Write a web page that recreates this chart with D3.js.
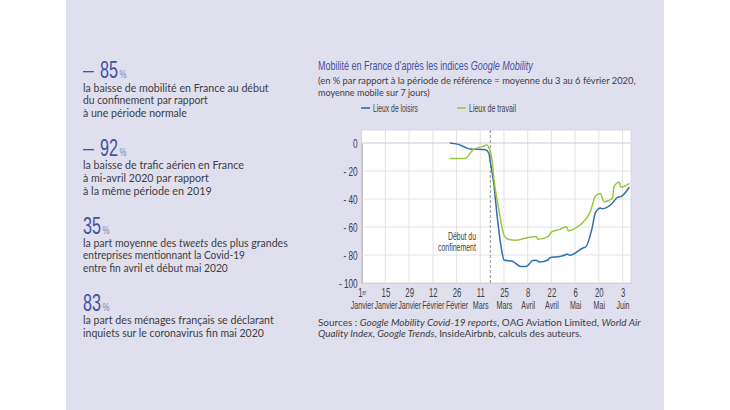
<!DOCTYPE html>
<html>
<head>
<meta charset="utf-8">
<script src="https://cdn.jsdelivr.net/npm/d3@7"></script>
<style>
  html, body { margin: 0; padding: 0; background: #fff; }
  svg { display: block; }
  text { font-family: "Lato", sans-serif; fill: #404042; }
</style>
</head>
<body>
<svg id="chart" width="730" height="410"></svg>
<script>
// data
const loisirsDates = ["02-22","02-27","03-02","03-05","03-14","03-16","03-17","03-19","03-21","03-24","03-25","03-30","04-04","04-07","04-11","04-13","04-15","04-20","04-21","04-27","04-30","05-01","05-03","05-11","05-12","05-16","05-18","05-21","05-22","05-28","05-31","06-02","06-07"];
const loisirsValues = [0,-1,-3,-4.3,-4.8,-7,-14,-29,-52.6,-79,-83.6,-84.5,-88.3,-88.3,-84,-83.8,-85,-83.6,-82,-81,-80,-79.3,-80.2,-74.8,-74.5,-61,-49.8,-46.4,-46.9,-43,-38.8,-38.3,-31.6];
const travailDates = ["02-22","03-02","03-07","03-12","03-15","03-16","03-18","03-19","03-22","03-25","03-27","04-01","04-07","04-13","04-14","04-20","04-22","04-27","04-30","05-01","05-02","05-07","05-11","05-15","05-18","05-21","05-23","05-28","05-29","06-01","06-02","06-07"];
const travailValues = [-11,-11,-4.5,-2.6,-1.4,-3,-13,-25,-47.9,-65.7,-68.6,-69.5,-67.9,-66.7,-68.8,-66.9,-63.6,-61.7,-60,-59.8,-62.6,-60.2,-56.2,-49,-37.9,-36,-41.9,-39.5,-31.2,-28,-31.6,-28.8];
const tickDates = ["01-01","01-15","01-29","02-12","02-26","03-11","03-25","04-08","04-22","05-06","05-20","06-03"];
const tickDays = ["1","15","29","12","26","11","25","8","22","6","20","3"];
const tickMonths = ["Janvier","Janvier","Janvier","Février","Février","Mars","Mars","Avril","Avril","Mai","Mai","Juin"];
const yTicks = [0,-20,-40,-60,-80,-100];
const seriesNames = ["Lieux de loisirs","Lieux de travail"];
const confinementDate = "03-17";

const figures = ["85","92","35","83"];
const blockLines = [
  ["la baisse de mobilité en France au début","du confinement par rapport","à une période normale"],
  ["la baisse de trafic aérien en France","à mi-avril 2020 par rapport","à la même période en 2019"],
  ["la part moyenne des <i>tweets</i> des plus grandes","entreprises mentionnant la Covid-19","entre fin avril et début mai 2020"],
  ["la part des ménages français se déclarant","inquiets sur le coronavirus fin mai 2020"]
];
const titleText = "Mobilité en France d’après les indices <i>Google Mobility</i>";
const subtitleLines = ["(en % par rapport à la période de référence = moyenne du 3 au 6 février 2020,","moyenne mobile sur 7 jours)"];
const sourceLines = ["Sources : <i>Google Mobility Covid-19 reports</i>, OAG Aviation Limited, <i>World Air</i>","<i>Quality Index</i>, <i>Google Trends</i>, InsideAirbnb, calculs des auteurs."];
const noteLines = ["Début du","confinement"];

const BLUE = "#2f6fae", GREEN = "#9cc641", TITLE = "#4451a6", NARROW = '"Liberation Sans", sans-serif';
const SQUEEZE = 0.62;

const parse = s => new Date(Date.UTC(2020, +s.slice(0,2) - 1, +s.slice(3)));

const svg = d3.select("#chart");
svg.append("rect").attr("x", 66).attr("y", 0).attr("width", 598).attr("height", 410).attr("fill", "#dfdfee");

// writes a line with <i> pieces, then squeezes it to the width measured on the picture
function put(x, y, str, width, opts = {}) {
  const t = svg.append("text")
    .style("font-size", (opts.size || 10.5) + "px")
    .style("font-family", opts.family || null)
    .style("fill", opts.fill || null)
    .style("font-weight", opts.weight || null);
  str.split(/(<i>.*?<\/i>)/).filter(s => s).forEach(part => {
    const it = part.startsWith("<i>");
    t.append("tspan").style("font-style", it ? "italic" : null).text(part.replace(/<\/?i>/g, ""));
  });
  const k = width ? width / t.node().getComputedTextLength() : 1;
  t.attr("transform", `translate(${x},${y}) scale(${k},1)`);
  return t;
}

// left column
const figX = [100, 100, 83, 83];
const figW = [18, 18, 18, 18];
const figY = [78, 156, 234, 311];
const lineY = [[91.7,104,116.7],[169,182,194.5],[247,259,271.5],[324.3,336.5]];
const lineW = [[186,125,104],[161,126,129],[205,162,145],[191,181]];
figures.forEach((f, i) => {
  if (i < 2) svg.append("rect").attr("x", 83).attr("y", figY[i] - 7).attr("width", 11).attr("height", 1.3).attr("fill", TITLE);
  put(figX[i], figY[i], f, figW[i], {size: 23.5, family: NARROW, fill: TITLE});
  put(figX[i] + 19.5, figY[i], "%", 7, {size: 11, family: NARROW, fill: "#7c86bd"});
  blockLines[i].forEach((l, j) => put(83, lineY[i][j], l, lineW[i][j]));
});

// headings
put(318, 70, titleText, 215, {size: 12.5, family: NARROW, fill: TITLE});
put(318, 84, subtitleLines[0], 318, {size: 9.5});
put(318, 95.7, subtitleLines[1], 112, {size: 9.5});
put(318, 325.7, sourceLines[0], 323, {size: 10});
put(318, 337, sourceLines[1], 264, {size: 10});

// legend
const legendX = [361, 457], legendW = [45, 47];
[BLUE, GREEN].forEach((c, i) => {
  svg.append("line").attr("x1", legendX[i]).attr("x2", legendX[i] + 9).attr("y1", 108).attr("y2", 108)
    .attr("stroke", c).attr("stroke-width", 1.6);
  put(legendX[i] + 12, 112, seriesNames[i], legendW[i], {size: 11, family: NARROW});
});

// plot
const margin = {left: 361.7, right: 631, top: 130, bottom: 283};
const x = d3.scaleUtc().domain([parse("01-01"), parse("06-08")]).range([margin.left, margin.right]);
const y = d3.scaleLinear().domain([-100, 0]).range([283, 143]);

svg.append("rect").attr("x", margin.left).attr("y", margin.top)
  .attr("width", margin.right - margin.left).attr("height", margin.bottom - margin.top)
  .attr("fill", "#fff").attr("stroke", "#d4d4dc").attr("stroke-width", 0.8);

const yAxis = svg.append("g").attr("transform", `translate(${margin.left},0)`)
  .call(d3.axisLeft(y).tickValues(yTicks).tickSize(0).tickPadding(4)
    .tickFormat(d => d === 0 ? "0" : "- " + Math.abs(d)));
yAxis.select(".domain").attr("stroke", "#a9a9b0").attr("stroke-width", 1);
yAxis.selectAll("text").style("font-family", NARROW).style("font-size", "12.5px")
  .attr("x", -4 / 0.66).attr("transform", "scale(0.66,1)");

// grid
svg.append("g").selectAll("line").data(tickDates.slice(1)).join("line")
  .attr("x1", d => x(parse(d))).attr("x2", d => x(parse(d)))
  .attr("y1", margin.top).attr("y2", margin.bottom)
  .attr("stroke", "#e0e0e0").attr("stroke-width", 0.9);
svg.append("g").selectAll("line").data(yTicks.filter(d => d > -100)).join("line")
  .attr("x1", margin.left).attr("x2", margin.right)
  .attr("y1", d => y(d)).attr("y2", d => y(d))
  .attr("stroke", d => d === 0 ? "#c4c4c4" : "#e0e0e0").attr("stroke-width", 0.9);

const xAxis = svg.append("g").attr("transform", `translate(0,${margin.bottom})`)
  .call(d3.axisBottom(x).tickValues(tickDates.map(parse)).tickSize(0).tickPadding(5)
    .tickFormat((d, i) => tickDays[i]));
xAxis.select(".domain").attr("stroke", "#d0d0d6").attr("stroke-width", 1.2);
xAxis.selectAll("text").style("font-family", NARROW).style("font-size", "12.5px")
  .attr("transform", `scale(${SQUEEZE},1)`);
xAxis.selectAll("text").filter((d, i) => i === 0).append("tspan")
  .attr("dy", "-0.3em").style("font-size", "6.5px").text("er");

const monthAxis = svg.append("g").attr("transform", `translate(0,${margin.bottom + 13})`)
  .call(d3.axisBottom(x).tickValues(tickDates.map(parse)).tickSize(0).tickPadding(5)
    .tickFormat((d, i) => tickMonths[i]));
monthAxis.select(".domain").remove();
monthAxis.selectAll("text").style("font-family", NARROW).style("font-size", "11.5px")
  .attr("transform", `scale(${SQUEEZE},1)`);

// start of lockdown
svg.append("line")
  .attr("x1", x(parse(confinementDate))).attr("x2", x(parse(confinementDate)))
  .attr("y1", margin.top).attr("y2", margin.bottom)
  .attr("stroke", "#a6a6a6").attr("stroke-width", 1.3).attr("stroke-dasharray", "3,2");

put(448, 240, noteLines[0], 28, {size: 11, family: NARROW});
put(438, 250.7, noteLines[1], 38, {size: 11, family: NARROW});

// lines
const line = d3.line().x(d => x(d[0])).y(d => y(d[1])).curve(d3.curveMonotoneX);
const series = [
  {dates: loisirsDates, values: loisirsValues, color: BLUE},
  {dates: travailDates, values: travailValues, color: GREEN}
];
svg.append("g").selectAll("path").data(series).join("path")
  .attr("fill", "none")
  .attr("stroke", d => d.color)
  .attr("stroke-width", 1.5)
  .attr("d", d => line(d.dates.map((s, i) => [parse(s), d.values[i]])));
</script>
</body>
</html>
